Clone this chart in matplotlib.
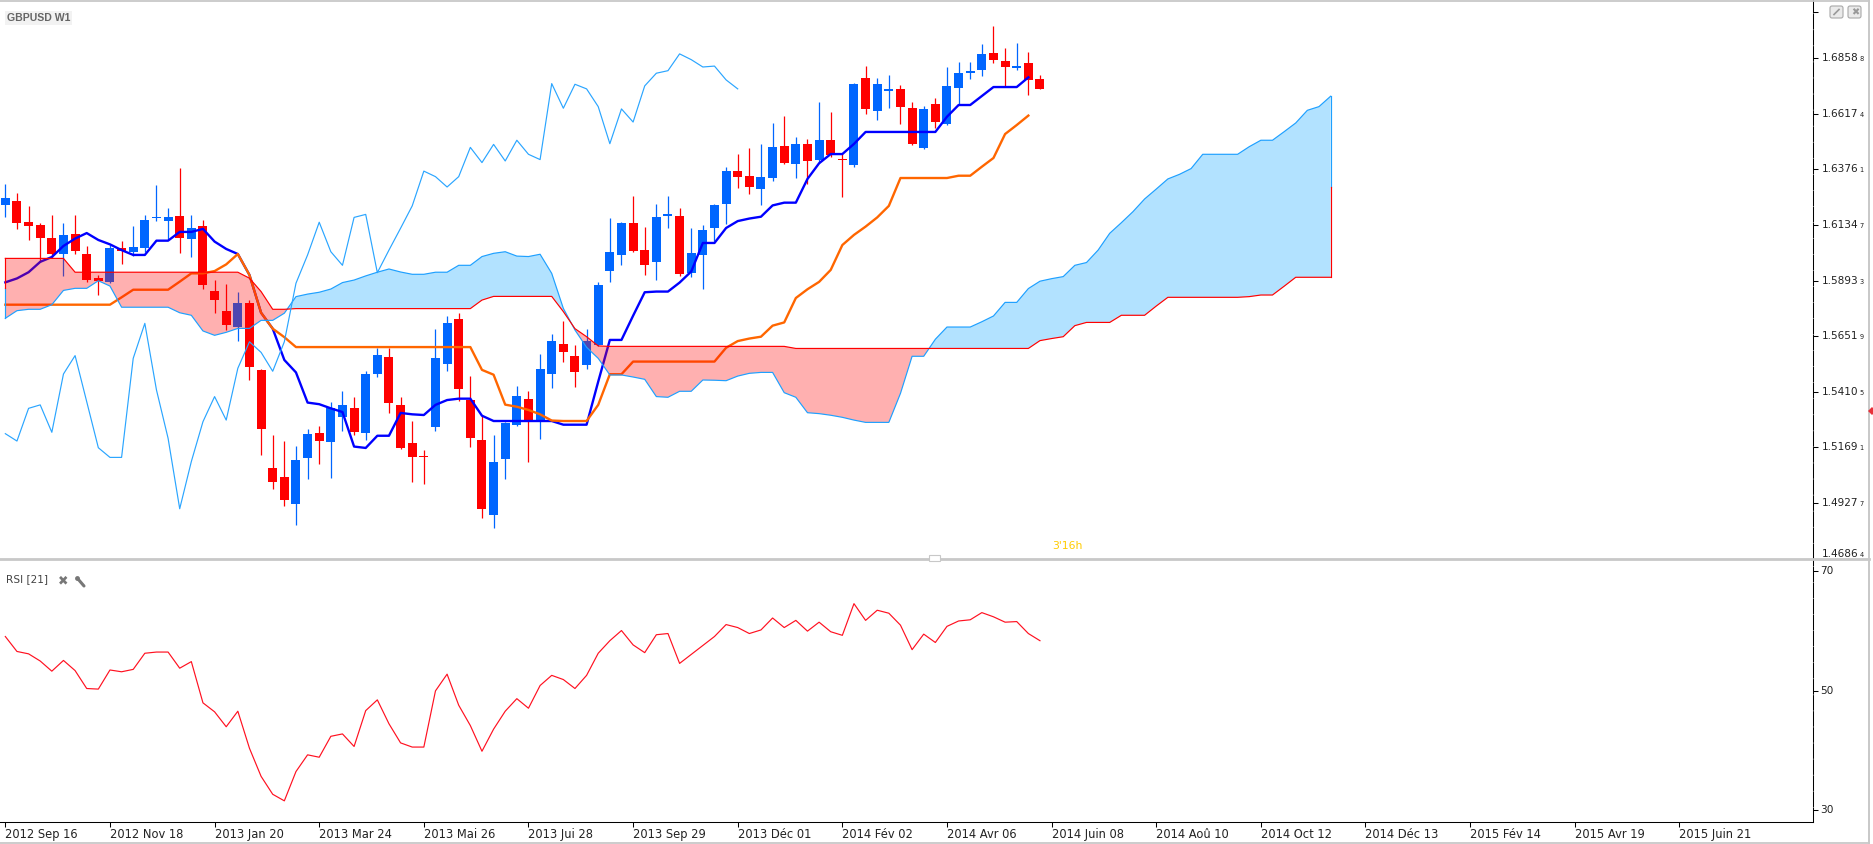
import numpy as np
import matplotlib
matplotlib.use('Agg')
import matplotlib.pyplot as plt
from matplotlib.patches import Rectangle, FancyBboxPatch

# weekly GBPUSD candles
opens = [1.6222, 1.6239, 1.6148, 1.6135, 1.6079, 1.6009, 1.6096, 1.6009, 1.5905, 1.5888,
         1.6035, 1.6018, 1.6035, 1.6165, 1.6152, 1.6174, 1.6074, 1.6131, 1.5849, 1.5762,
         1.5692, 1.5797, 1.5506, 1.5080, 1.5041, 1.4924, 1.5124, 1.5232, 1.5193, 1.5301,
         1.5341, 1.5232, 1.5488, 1.5562, 1.5354, 1.5189, 1.5132, 1.5258, 1.5532, 1.5727,
         1.5375, 1.5202, 1.4876, 1.5119, 1.5267, 1.5380, 1.5288, 1.5488, 1.5618, 1.5567,
         1.5527, 1.5615, 1.5935, 1.6005, 1.6144, 1.6026, 1.5975, 1.6174, 1.6174, 1.5927,
         1.6005, 1.6122, 1.6226, 1.6369, 1.6348, 1.6291, 1.6339, 1.6478, 1.6400, 1.6487,
         1.6417, 1.6504, 1.6422, 1.6396, 1.6773, 1.6630, 1.6717, 1.6726, 1.6643, 1.6469,
         1.6660, 1.6574, 1.6730, 1.6795, 1.6808, 1.6882, 1.6847, 1.6817, 1.6838, 1.6769]
closes = [1.6252, 1.6144, 1.6131, 1.6079, 1.6009, 1.6092, 1.6022, 1.5896, 1.5892, 1.6035,
          1.6022, 1.6040, 1.6157, 1.6170, 1.6170, 1.6079, 1.6122, 1.5875, 1.5809, 1.5702,
          1.5797, 1.5518, 1.5250, 1.5019, 1.4941, 1.5115, 1.5228, 1.5197, 1.5341, 1.5354,
          1.5236, 1.5488, 1.5571, 1.5362, 1.5167, 1.5128, 1.5128, 1.5558, 1.5710, 1.5423,
          1.5210, 1.4902, 1.5106, 1.5275, 1.5393, 1.5288, 1.5510, 1.5631, 1.5584, 1.5497,
          1.5631, 1.5875, 1.6018, 1.6144, 1.6022, 1.5961, 1.6170, 1.6183, 1.5922, 1.6013,
          1.6113, 1.6222, 1.6369, 1.6343, 1.6300, 1.6343, 1.6474, 1.6404, 1.6487, 1.6413,
          1.6504, 1.6439, 1.6417, 1.6747, 1.6639, 1.6747, 1.6726, 1.6647, 1.6487, 1.6639,
          1.6582, 1.6739, 1.6795, 1.6804, 1.6878, 1.6851, 1.6821, 1.6825, 1.6765, 1.6726]
highs = [1.6313, 1.6274, 1.6218, 1.6143, 1.6178, 1.6144, 1.6178, 1.6044, 1.5918, 1.6048,
         1.6066, 1.6131, 1.6178, 1.6309, 1.6209, 1.6382, 1.6178, 1.6157, 1.5896, 1.5879,
         1.5843, 1.5809, 1.5508, 1.5223, 1.5197, 1.5176, 1.5250, 1.5263, 1.5367, 1.5415,
         1.5388, 1.5501, 1.5601, 1.5601, 1.5388, 1.5284, 1.5158, 1.5685, 1.5741, 1.5753,
         1.5479, 1.5310, 1.5223, 1.5280, 1.5436, 1.5415, 1.5575, 1.5662, 1.5718, 1.5615,
         1.5685, 1.5888, 1.6165, 1.6148, 1.6261, 1.6126, 1.6226, 1.6261, 1.6209, 1.6122,
         1.6135, 1.6226, 1.6387, 1.6443, 1.6469, 1.6487, 1.6578, 1.6608, 1.6517, 1.6508,
         1.6669, 1.6626, 1.6443, 1.6752, 1.6825, 1.6773, 1.6786, 1.6743, 1.6669, 1.6652,
         1.6687, 1.6821, 1.6843, 1.6843, 1.6921, 1.7000, 1.6904, 1.6925, 1.6886, 1.6786]
lows = [1.6171, 1.6118, 1.6070, 1.5976, 1.5990, 1.5914, 1.6009, 1.5889, 1.5833, 1.5883,
        1.5966, 1.6000, 1.6018, 1.6152, 1.6070, 1.6013, 1.5996, 1.5859, 1.5753, 1.5680,
        1.5631, 1.5462, 1.5136, 1.4989, 1.4915, 1.4833, 1.5032, 1.5097, 1.5036, 1.5241,
        1.5223, 1.5202, 1.5475, 1.5319, 1.5163, 1.5019, 1.5010, 1.5241, 1.5501, 1.5371,
        1.5171, 1.4863, 1.4820, 1.5032, 1.5263, 1.5106, 1.5206, 1.5427, 1.5540, 1.5432,
        1.5510, 1.5610, 1.5888, 1.5961, 1.6018, 1.5918, 1.5896, 1.6122, 1.5914, 1.5909,
        1.5859, 1.6066, 1.6139, 1.6296, 1.6270, 1.6222, 1.6326, 1.6400, 1.6339, 1.6313,
        1.6404, 1.6432, 1.6257, 1.6387, 1.6617, 1.6591, 1.6643, 1.6574, 1.6482, 1.6465,
        1.6556, 1.6569, 1.6656, 1.6769, 1.6782, 1.6838, 1.6739, 1.6808, 1.6700, 1.6726]

# ichimoku lines
tenkan = [1.5886, 1.5903, 1.5930, 1.5975, 1.5996, 1.6044, 1.6076, 1.6100, 1.6070, 1.6051,
          1.6026, 1.6005, 1.6005, 1.6067, 1.6067, 1.6105, 1.6105, 1.6118, 1.6063, 1.6031,
          1.6009, 1.5918, 1.5754, 1.5685, 1.5549, 1.5495, 1.5364, 1.5357, 1.5339, 1.5323,
          1.5173, 1.5167, 1.5220, 1.5220, 1.5319, 1.5313, 1.5310, 1.5354, 1.5375, 1.5381,
          1.5381, 1.5307, 1.5284, 1.5284, 1.5284, 1.5284, 1.5284, 1.5284, 1.5268, 1.5268,
          1.5268, 1.5455, 1.5636, 1.5636, 1.5741, 1.5843, 1.5846, 1.5846, 1.5885, 1.5933,
          1.6057, 1.6057, 1.6122, 1.6152, 1.6163, 1.6171, 1.6220, 1.6232, 1.6232, 1.6335,
          1.6403, 1.6443, 1.6443, 1.6487, 1.6539, 1.6539, 1.6539, 1.6539, 1.6539, 1.6539,
          1.6539, 1.6605, 1.6656, 1.6656, 1.6695, 1.6734, 1.6734, 1.6734, 1.6776]
kijun = [1.5789] * 10 + [1.5821, 1.5854, 1.5854, 1.5854, 1.5854, 1.5889, 1.5925, 1.5925, 1.5935, 1.5964,
         1.6009, 1.5918, 1.5754, 1.5685, 1.5648] + [1.5605] * 16 + [1.5506, 1.5485, 1.5355, 1.5346, 1.5332,
         1.5313, 1.5286, 1.5284, 1.5284, 1.5284, 1.5354, 1.5487, 1.5487] + [1.5542] * 8 + [1.5602, 1.5631,
         1.5642, 1.5650, 1.5698, 1.5712, 1.5818, 1.5856, 1.5888, 1.5940, 1.6048, 1.6092, 1.6128, 1.6168, 1.6218,
         1.6339, 1.6339, 1.6339, 1.6339, 1.6339, 1.6349, 1.6349, 1.6388, 1.6426, 1.6530, 1.6569, 1.6610]
chikou = [1.5229, 1.5197, 1.5339, 1.5354, 1.5235, 1.5488, 1.5568, 1.5368, 1.5168, 1.5126,
          1.5126, 1.5556, 1.5708, 1.5419, 1.5209, 1.4903, 1.5108, 1.5281, 1.5390, 1.5288,
          1.5513, 1.5628, 1.5582, 1.5500, 1.5628, 1.5882, 1.6005, 1.6147, 1.6019, 1.5960,
          1.6168, 1.6181, 1.5928, 1.6026, 1.6121, 1.6218, 1.6369, 1.6345, 1.6300, 1.6345,
          1.6472, 1.6406, 1.6485, 1.6413, 1.6503, 1.6442, 1.6419, 1.6749, 1.6642, 1.6746,
          1.6726, 1.6649, 1.6488, 1.6639, 1.6582, 1.6739, 1.6794, 1.6805, 1.6878, 1.6853,
          1.6821, 1.6825, 1.6765, 1.6726]
senkou_a = [1.5730, 1.5763, 1.5769, 1.5769, 1.5789, 1.5851, 1.5860, 1.5860, 1.5893, 1.5870,
            1.5778, 1.5778, 1.5778, 1.5778, 1.5778, 1.5754, 1.5743, 1.5675, 1.5656, 1.5669,
            1.5686, 1.5686, 1.5721, 1.5721, 1.5752, 1.5824, 1.5835, 1.5843, 1.5857, 1.5885,
            1.5896, 1.5914, 1.5930, 1.5944, 1.5931, 1.5921, 1.5921, 1.5930, 1.5930, 1.5960,
            1.5960, 1.5998, 1.6012, 1.6019, 1.6000, 1.5998, 1.6008, 1.5925, 1.5773, 1.5679,
            1.5604, 1.5556, 1.5484, 1.5484, 1.5475, 1.5465, 1.5390, 1.5387, 1.5413, 1.5413,
            1.5462, 1.5461, 1.5459, 1.5479, 1.5491, 1.5495, 1.5495, 1.5407, 1.5387, 1.5320,
            1.5316, 1.5309, 1.5300, 1.5288, 1.5278, 1.5278, 1.5278, 1.5404, 1.5565, 1.5565,
            1.5639, 1.5692, 1.5692, 1.5692, 1.5715, 1.5740, 1.5799, 1.5799, 1.5859, 1.5891,
            1.5902, 1.5911, 1.5960, 1.5972, 1.6026, 1.6099, 1.6145, 1.6193, 1.6248, 1.6291,
            1.6335, 1.6355, 1.6380, 1.6442, 1.6442, 1.6442, 1.6442, 1.6475, 1.6503, 1.6503,
            1.6540, 1.6578, 1.6633, 1.6649, 1.6694]
senkou_b = [1.5990] * 6 + [1.5930] * 15 + [1.5904, 1.5846, 1.5769, 1.5769] + [1.5772] * 16 + [1.5809] \
    + [1.5825] * 6 + [1.5759, 1.5685, 1.5650, 1.5610] + [1.5608] * 16 + [1.5599] * 21 \
    + [1.5633, 1.5642, 1.5650, 1.5698, 1.5712, 1.5712, 1.5712, 1.5743, 1.5743, 1.5743, 1.5783] \
    + [1.5821] * 7 + [1.5824, 1.5831, 1.5831, 1.5869, 1.5908, 1.5908, 1.5908, 1.5908]

rsi = [59.1, 56.6, 56.2, 55.0, 53.3, 55.1, 53.4, 50.4, 50.3, 53.5,
       53.2, 53.6, 56.3, 56.5, 56.5, 53.8, 54.9, 48.0, 46.5, 44.0,
       46.6, 40.4, 35.7, 32.7, 31.6, 36.5, 39.3, 38.9, 42.4, 42.8,
       40.7, 46.7, 48.5, 44.5, 41.3, 40.6, 40.6, 50.0, 52.8, 47.6,
       44.2, 39.9, 43.6, 46.6, 48.7, 47.1, 50.9, 52.6, 51.9, 50.4,
       52.6, 56.3, 58.4, 60.1, 57.7, 56.4, 59.4, 59.6, 54.6, 56.1,
       57.6, 59.1, 61.1, 60.6, 59.6, 60.2, 62.2, 60.6, 61.8, 60.0,
       61.5, 59.9, 59.3, 64.6, 61.8, 63.5, 63.0, 61.0, 56.9, 59.5,
       58.1, 60.8, 61.7, 61.9, 63.1, 62.4, 61.5, 61.6, 59.6, 58.4]

price_ticks = [1.68588, 1.66174, 1.63761, 1.61347, 1.58933, 1.56519, 1.54105, 1.51691, 1.49277, 1.46864]
rsi_ticks = [30, 50, 70]
date_labels = ['2012 Sep 16', '2012 Nov 18', '2013 Jan 20', '2013 Mar 24', '2013 Mai 26', '2013 Jui 28',
               '2013 Sep 29', '2013 Déc 01', '2014 Fév 02', '2014 Avr 06', '2014 Juin 08', '2014 Aoû 10',
               '2014 Oct 12', '2014 Déc 13', '2015 Fév 14', '2015 Avr 19', '2015 Juin 21']

BLUE = '#0066FF'
RED = '#FF0000'
SKY = '#1EA0FF'
GREY = '#C8C8C8'

W, H = 1874, 844
fig = plt.figure(figsize=(W / 100, H / 100), dpi=100)
fig.patch.set_facecolor('white')

right = 1813.4
sep = 558
bottom = 822
ax1 = fig.add_axes([0, 1 - sep / H, right / W, sep / H])
ax2 = fig.add_axes([0, 1 - bottom / H, right / W, (bottom - sep) / H])

xlim = (-0.4585, 155.53)
ax1.set_xlim(xlim)
ax2.set_xlim(xlim)
ax1.set_ylim(1.46892, 1.71119)
ax2.set_ylim(28.06, 72.24)

# candles
o = np.array(opens)
c = np.array(closes)
x = np.arange(len(o))
cols = [BLUE if cl >= op else RED for op, cl in zip(o, c)]
ax1.vlines(x, lows, highs, colors=cols, lw=0.9, zorder=2)
ax1.bar(x, np.maximum(np.abs(c - o), 0.0006), bottom=np.minimum(o, c), width=0.774, color=cols, lw=0, zorder=2)

# tenkan / kijun go under the cloud, that's why they tint inside it
ax1.plot(np.arange(len(tenkan)), tenkan, color='#0000FF', lw=1.7, zorder=3)
ax1.plot(np.arange(len(kijun)), kijun, color='#FF6600', lw=1.7, zorder=3.1)

# cloud
sa = np.array(senkou_a)
sb = np.array(senkou_b)
xc = np.arange(len(sa))
ax1.fill_between(xc, sa, sb, where=sa >= sb, interpolate=True, color='#00A0FF', alpha=0.3, lw=0, zorder=4)
ax1.fill_between(xc, sa, sb, where=sa < sb, interpolate=True, color=RED, alpha=0.31, lw=0, zorder=4)
ax1.plot(xc, sa, color=SKY, lw=0.85, zorder=5)
ax1.plot(xc, sb, color=RED, lw=0.85, zorder=5)
# closing edges of the cloud polygon
for i in (0, len(sa) - 1):
    mid = (sa[i] + sb[i]) / 2
    ax1.plot([i, i], [sa[i], mid], color=SKY, lw=0.85, zorder=5)
    ax1.plot([i, i], [sb[i], mid], color=RED, lw=0.85, zorder=5)

ax1.plot(np.arange(len(chikou)), chikou, color='#2AA5FF', lw=0.85, zorder=5)

ax2.plot(np.arange(len(rsi)), rsi, color='#FF1020', lw=0.85)

# axes
for ax in (ax1, ax2):
    ax.patch.set_alpha(0)
    ax.spines['top'].set_visible(False)
    ax.spines['left'].set_visible(False)
    ax.yaxis.tick_right()
    ax.tick_params(axis='y', length=3.6, width=0.75, labelright=False)
    ax.spines['right'].set_linewidth(0.75)
    ax.spines['right'].set_linestyle((0, (14, 1.4)))
ax1.spines['bottom'].set_visible(False)
ax1.set_xticks([])
ax1.set_yticks(price_ticks[:-1])
ax1.set_yticks([1.7061], minor=True)
ax1.tick_params(axis='y', which='minor', length=3.6, width=0.75, right=True)

ax2.spines['bottom'].set_linewidth(0.75)
ax2.set_xticks(np.arange(len(date_labels)) * 9)
ax2.set_xticklabels(date_labels, ha='left', fontsize=8.3, color='#222222')
ax2.tick_params(axis='x', length=3.6, width=0.75, pad=0.6)
ax2.set_yticks(rsi_ticks)
for v in rsi_ticks:
    ax2.annotate(str(v), xy=(1, v), xycoords=ax2.get_yaxis_transform(), xytext=(7, 0),
                 textcoords='offset pixels', va='center', fontsize=7.6, color='#222222', annotation_clip=False)

# price labels, last digit is drawn smaller
for p in price_ticks:
    s = '%.5f' % p
    dy = 5 if p == price_ticks[-1] else 0
    ax1.annotate(s[:-1], xy=(1, p), xycoords=ax1.get_yaxis_transform(), xytext=(8, dy),
                 textcoords='offset pixels', va='center', fontsize=7.6, color='#222222', annotation_clip=False)
    ax1.annotate(s[-1], xy=(1, p), xycoords=ax1.get_yaxis_transform(), xytext=(46, dy - 1),
                 textcoords='offset pixels', va='center', fontsize=4.8, color='#222222', annotation_clip=False)

# window chrome, drawn in pixel coordinates over the charts
ov = fig.add_axes([0, 0, 1, 1])
ov.set_xlim(0, W)
ov.set_ylim(H, 0)
ov.axis('off')
ov.patch.set_alpha(0)

ov.plot([0, 1869], [1.3, 1.3], color=GREY, lw=1.3)
ov.plot([0, 1869], [558.5, 558.5], color=GREY, lw=2)
ov.plot([0, 1869], [842.5, 842.5], color=GREY, lw=1.3)
ov.plot([1869, 1869], [1, 843], color=GREY, lw=1.4)
ov.add_patch(Rectangle((929, 555), 11, 6, fc='white', ec=GREY, lw=0.8, zorder=5))
ov.plot([1872], [410.5], marker='D', ms=4, color='#E8303A', mew=0, clip_on=False)

for bx in (1830, 1848):
    ov.add_patch(FancyBboxPatch((bx, 6), 13, 12, boxstyle='round,pad=0,rounding_size=2',
                                fc='#EAEAEA', ec='#A8A8A8', lw=0.8))
ov.plot([1834, 1839], [14.5, 9.5], color='#999999', lw=1.2)
ov.text(1855.5, 12, '✖', fontsize=7, color='#999999', ha='center', va='center', family='DejaVu Sans')

ov.text(7, 18, 'GBPUSD W1', fontsize=7.6, fontweight='bold', color='#666666', va='center', family='Liberation Sans',
        bbox=dict(fc='#F2F2F2', ec='none', pad=1.5))
ov.text(6, 579.5, 'RSI [21]', fontsize=7.6, color='#444444', va='center')
ov.text(63, 581, '✖', fontsize=9, color='#777777', ha='center', va='center', family='DejaVu Sans')
ov.plot([78, 84], [579, 586], color='#777777', lw=2.2, solid_capstyle='round')
ov.plot([77], [578], marker='o', ms=3.5, color='#777777', mew=0)
ov.text(1052, 546, "3'16h", fontsize=7.8, color='#FFCC00', va='center')

fig.savefig('out.png', dpi=100, facecolor='white')
